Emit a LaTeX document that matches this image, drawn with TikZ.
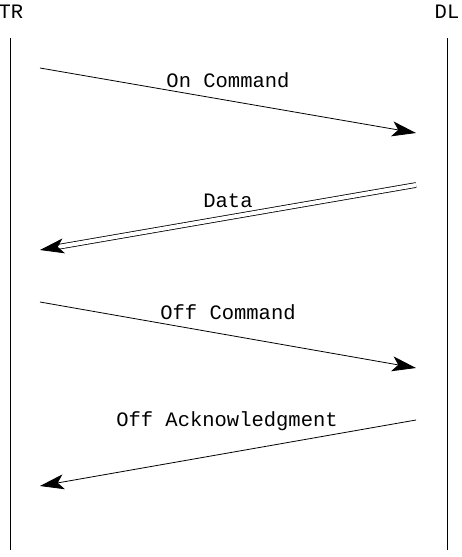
\documentclass[tikz,border=0pt]{standalone}
\usepackage{fontspec}
\setmonofont{Liberation Mono}
\usetikzlibrary{arrows.meta}
\begin{document}
\begin{tikzpicture}[
        x=1pt, y=-1pt,
        party/.style={font=\ttfamily\fontsize{20.5}{20.5}\selectfont, inner sep=0pt},
        msglabel/.style={font=\ttfamily\fontsize{20.5}{20.5}\selectfont, inner sep=0pt},
        msg/.style={line width=0.8pt, -{Stealth[length=24pt, width=15pt, inset=6pt]}},
        ]
    \useasboundingbox (0,0) rectangle (461,557);
    % parties
    \node (tr) [party] at (11,12) {TR};
    \node (dl) [party] at (447,12) {DL};
    \draw[line width=0.8pt] (10,38) coordinate (trtop) -- (10,550) coordinate (trbot);
    \draw[line width=0.8pt] (447,38) coordinate (dltop) -- (447,550) coordinate (dlbot);
    % message end points
    \coordinate (a1) at (40,68);   \coordinate (b1) at (416,133);
    \coordinate (b2) at (416,185); \coordinate (a2) at (40,250);
    \coordinate (a3) at (40,302);  \coordinate (b3) at (416,368);
    \coordinate (b4) at (416,420); \coordinate (a4) at (40,486);
    % messages
    \draw[msg] (a1) -- (b1);
    \node (oncmd) [msglabel] at (228,80) {On Command};
    \draw[msg, double, double distance=4pt] (b2) -- (a2);
    \node (data) [msglabel] at (228,201) {Data};
    \draw[msg] (a3) -- (b3);
    \node (offcmd) [msglabel] at (228,312) {Off Command};
    \draw[msg] (b4) -- (a4);
    \node (offack) [msglabel] at (227,421) {Off Acknowledgment};
\end{tikzpicture}
\end{document}
